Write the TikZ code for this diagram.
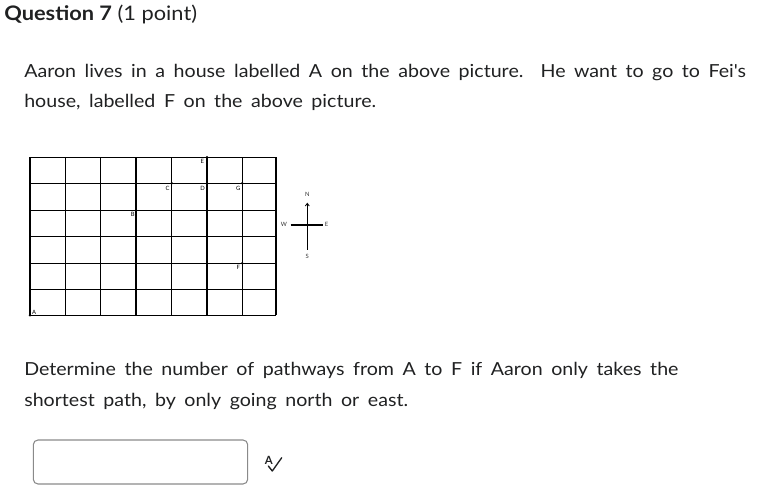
\documentclass[tikz,border=0pt]{standalone}
\usepackage{fontspec}
\setmainfont{Lato}[FakeStretch=1.09,WordSpace=1.7]
\newfontfamily\titlefont{Lato}[FakeStretch=1.09]
\newfontfamily\smallfont{Lato}
\usetikzlibrary{arrows.meta,calc}
\definecolor{txt}{HTML}{202122}
\definecolor{boxgray}{HTML}{8A8A8A}
\begin{document}
\begin{tikzpicture}[x=0.75pt,y=-0.75pt,
  body/.style={anchor=base west,inner sep=0pt,text=txt,font=\fontsize{13.5pt}{16pt}\selectfont},
  gridline/.style={line width=0.8pt,black},
  ptlab/.style={inner sep=0pt,font=\smallfont\fontsize{4.4pt}{5pt}\selectfont,text=black},
  compasslab/.style={inner sep=0pt,font=\smallfont\fontsize{4.4pt}{5pt}\selectfont,text=black!80},
  answerbox/.style={draw=boxgray,line width=0.8pt,rounded corners=3.5pt}]
\useasboundingbox (0,0) rectangle (777,498);
% title
\node[anchor=base west,inner sep=0pt,text=txt,font=\titlefont\fontsize{15pt}{18pt}\selectfont] (title) at (4,20.5) {\textbf{Question 7} (1 point)};
% body text
\node[body] (l1) at (24,77.5) {Aaron lives in a house labelled A on the above picture.\ \ He want to go to Fei\textquotesingle s};
\node[body] (l2) at (24,107.5) {house, labelled F on the above picture.};
\node[body] (l3) at (24,376) {Determine the number of pathways from A to F if Aaron only takes the};
\node[body] (l4) at (24,406.5) {shortest path, by only going north or east.};
% grid
\foreach \i/\x in {0/30,1/65.3,2/100.7,3/136,4/171.7,5/207,6/242.3,7/276}
  \draw[gridline] (\x,157.3) -- (\x,315.3);
\foreach \j/\y in {0/315.3,1/289.3,2/263.3,3/236.3,4/210.3,5/183.3,6/157.3}
  \draw[gridline] (30,\y) -- (276,\y);
% points
\coordinate (A) at (30,315.3);
\coordinate (B) at (136,210.3);
\coordinate (C) at (171.7,183.3);
\coordinate (D) at (207,183.3);
\coordinate (E) at (207,157.3);
\coordinate (G) at (242.3,183.3);
\coordinate (F) at (242.3,263.3);
\foreach \p in {A,B,C,D,E,G,F}
  \fill (\p) circle (1.4);
\node[ptlab] (lA) at ($(A)+(4,-3)$) {A};
\node[ptlab] (lB) at ($(B)+(-3.3,4)$) {B};
\node[ptlab] (lC) at ($(C)+(-4,5)$) {C};
\node[ptlab] (lD) at ($(D)+(-4.3,5)$) {D};
\node[ptlab] (lE) at ($(E)+(-4.7,4.4)$) {E};
\node[ptlab] (lG) at ($(G)+(-4,5)$) {G};
\node[ptlab] (lF) at ($(F)+(-4,4)$) {F};
% compass
\coordinate (cc) at (307.3,225);
\coordinate (cN) at (307.3,202.7);
\coordinate (cS) at (307.3,250);
\coordinate (cW) at (290.7,225);
\coordinate (cE) at (323.3,225);
\draw[line width=0.8pt] (cW) -- (cE);
\draw[line width=0.6pt,-{Straight Barb[length=2pt,width=3pt]}] (cS) -- (cN);
\node[compasslab] (nN) at (307.3,194) {N};
\node[compasslab] (nS) at (307.3,256.7) {S};
\node[compasslab] (nW) at (284,224.5) {W};
\node[compasslab] (nE) at (326.5,224.5) {E};
% answer box
\draw[answerbox] (33.3,440) rectangle (247.7,484);
% spell-check icon
\node[inner sep=0pt,font=\smallfont\bfseries\fontsize{8.5pt}{9pt}\selectfont,text=txt] (icA) at (268.7,460) {A};
\draw[txt,line width=1pt,line join=round,line cap=round] (268.3,466) -- (272.3,471) -- (281.7,457.7);
\end{tikzpicture}
\end{document}
